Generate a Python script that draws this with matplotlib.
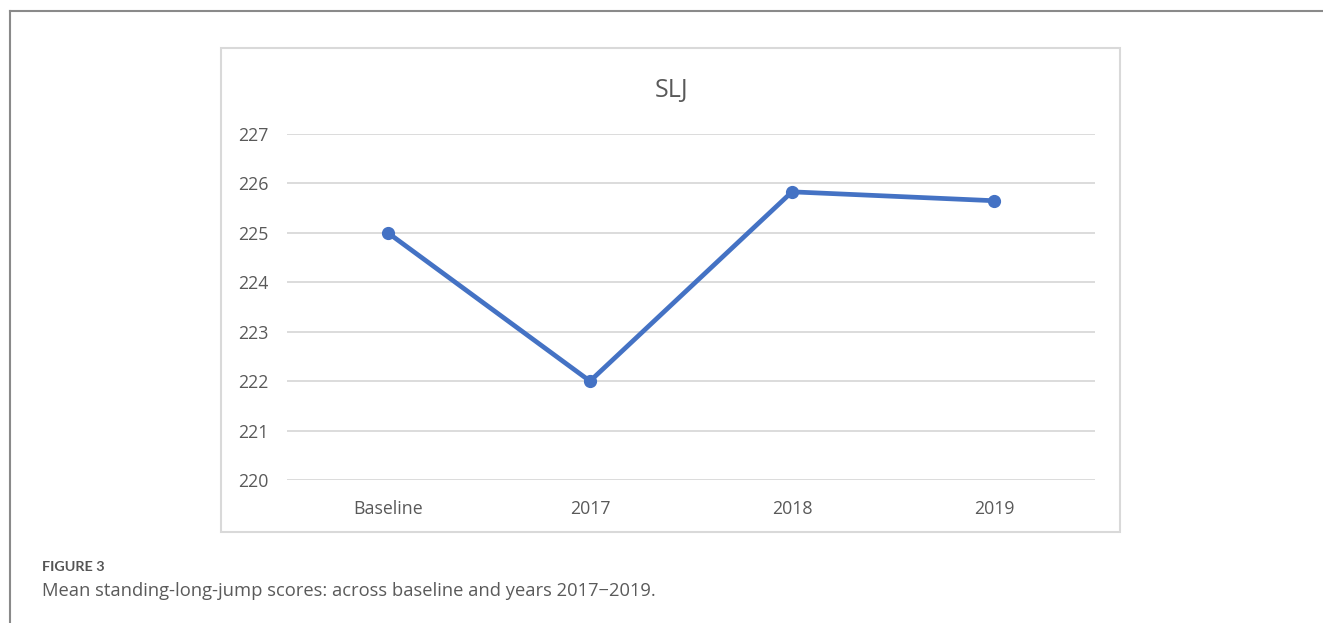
import matplotlib
matplotlib.use("Agg")
import matplotlib.pyplot as plt
from matplotlib.patches import Rectangle
from matplotlib.lines import Line2D

# Mean standing-long-jump scores
categories = ["Baseline", "2017", "2018", "2019"]
slj_means = [225.0, 222.0, 225.83, 225.65]
y_ticks = [220, 221, 222, 223, 224, 225, 226, 227]

W, H = 1323, 623
fig = plt.figure(figsize=(W / 100, H / 100), dpi=100)
fig.patch.set_facecolor("white")

# page frame (top and left rule)
fig.add_artist(Line2D([10 / W, 1], [1 - 11 / H, 1 - 11 / H], transform=fig.transFigure,
                      color="#8a8a8a", lw=1.5))
fig.add_artist(Line2D([10 / W, 10 / W], [0, 1 - 11 / H], transform=fig.transFigure,
                      color="#8a8a8a", lw=1.5))

# chart area border
fig.add_artist(Rectangle((221 / W, 1 - 532 / H), (1120 - 221) / W, (532 - 48) / H,
                         transform=fig.transFigure, fill=False,
                         edgecolor="#d9d9d9", lw=1.5))

ax = fig.add_axes([287 / W, 1 - 480 / H, (1095 - 287) / W, (480 - 134) / H])
x = list(range(len(categories)))
ax.plot(x, slj_means, color="#4472C4", lw=3.4, marker="o", markersize=8.5,
        solid_capstyle="round", zorder=3)

ax.set_xlim(-0.5, len(categories) - 0.5)
ax.set_ylim(y_ticks[0], y_ticks[-1])
ax.set_yticks(y_ticks)
ax.set_xticks(x)
ax.set_xticklabels(categories)
ax.grid(axis="y", color="#d9d9d9", lw=1.3)
ax.set_axisbelow(True)
for s in ax.spines.values():
    s.set_visible(False)
ax.tick_params(length=0, labelsize=12.8, labelcolor="#595959")
ax.tick_params(axis="y", pad=13)
ax.tick_params(axis="x", pad=14.5)
for lab in ax.get_xticklabels() + ax.get_yticklabels():
    lab.set_fontfamily("Open Sans")

fig.text(672 / W, 1 - 90 / H, "SLJ", ha="center", va="center", fontsize=18,
         color="#595959", family="Open Sans")

# caption
fig.text(42 / W, 1 - 567 / H, "FIGURE 3", ha="left", va="center", fontsize=10.4,
         color="#555555", family="Lato", weight="bold")
fig.text(42 / W, 1 - 591 / H, "Mean standing-long-jump scores: across baseline and years 2017\u22122019.",
         ha="left", va="center", fontsize=13.2, color="#5a5a5a", family="Open Sans")

fig.savefig("out.png", dpi=100, facecolor="white")
